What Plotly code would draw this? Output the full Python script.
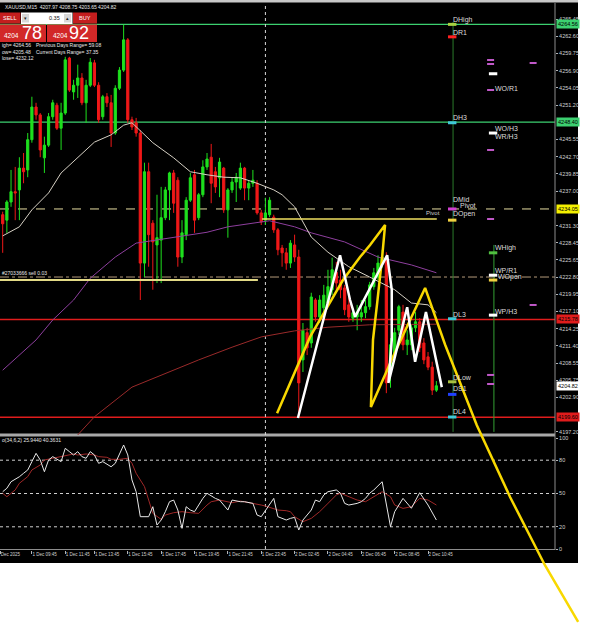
import plotly.graph_objects as go

W, H = 595, 625
FONT = "Liberation Sans, Arial, sans-serif"

# ---------------- data ----------------
candle_idx = list(range(105))
open_p = [4233.1,4232.2,4235.2,4236.9,4237.2,4240.8,4240.5,4245.5,4250.9,4249.6,
          4242.5,4244.6,4249.3,4251.2,4247.4,4249.9,4259.0,4253.4,4254.5,4255.7,
          4251.6,4254.5,4258.2,4254.5,4249.3,4252.6,4251.6,4246.6,4254.0,4257.0,
          4262.0,4248.8,4248.3,4246.6,4225.1,4240.2,4231.7,4228.1,4228.9,4232.6,
          4237.2,4240.0,4238.8,4226.1,4229.8,4235.5,4239.7,4232.6,4236.4,4241.0,
          4242.6,4240.2,4239.2,4240.8,4233.9,4237.2,4238.5,4237.5,4240.8,4237.5,
          4238.3,4238.3,4233.4,4232.2,4233.1,4232.7,4230.6,4227.6,4226.8,4225.1,
          4228.1,4226.1,4209.1,4213.6,4211.9,4219.0,4216.2,4217.7,4218.5,4220.7,
          4223.6,4222.3,4221.0,4218.2,4216.0,4216.2,4216.2,4216.9,4217.9,4221.2,
          4222.8,4225.1,4226.1,4207.4,4210.2,4214.0,4217.0,4211.6,4211.6,4214.4,
          4215.4,4211.9,4209.6,4207.9,4204.1]
high_p = [4233.6,4235.5,4240.5,4241.0,4242.6,4243.3,4246.6,4252.6,4251.6,4249.9,
          4246.0,4249.9,4252.1,4251.6,4251.6,4259.2,4259.2,4255.4,4257.9,4256.5,
          4255.4,4259.0,4258.7,4255.0,4252.9,4253.2,4252.9,4254.5,4257.5,4264.5,
          4262.3,4249.3,4249.1,4247.1,4241.7,4241.7,4232.2,4236.4,4237.7,4237.7,
          4240.2,4240.5,4239.3,4232.2,4236.0,4240.0,4240.5,4236.7,4242.1,4243.3,
          4244.8,4241.0,4242.5,4241.0,4237.5,4239.3,4240.0,4241.7,4241.0,4238.8,
          4240.5,4238.8,4233.9,4235.9,4236.0,4233.1,4230.9,4228.1,4227.6,4228.9,
          4229.8,4227.3,4215.2,4214.4,4220.2,4219.3,4219.8,4221.5,4224.0,4226.0,
          4225.3,4224.0,4221.5,4219.8,4217.7,4218.2,4219.0,4219.0,4222.0,4224.3,
          4226.4,4227.3,4226.9,4212.7,4214.4,4218.2,4218.2,4214.0,4214.9,4217.0,
          4216.0,4212.7,4210.4,4208.8,4205.6]
low_p = [4226.8,4230.1,4234.4,4232.2,4232.2,4238.3,4239.3,4245.0,4248.8,4242.6,
         4240.0,4244.3,4248.8,4247.1,4243.8,4249.6,4253.4,4252.1,4252.4,4251.2,
         4248.3,4254.2,4254.2,4248.3,4248.8,4250.9,4244.3,4246.3,4253.7,4256.7,
         4248.3,4247.1,4246.0,4219.0,4222.8,4224.5,4220.7,4221.8,4221.8,4232.2,
         4232.2,4233.4,4224.5,4225.1,4228.9,4235.2,4230.1,4232.2,4236.0,4240.5,
         4235.0,4236.7,4236.0,4233.4,4229.3,4236.7,4235.2,4237.2,4235.5,4235.5,
         4237.7,4233.1,4231.4,4231.4,4232.7,4230.1,4226.4,4224.5,4224.0,4224.3,
         4225.3,4199.7,4207.1,4209.9,4211.1,4215.4,4215.2,4217.0,4218.2,4219.8,
         4220.7,4219.3,4216.5,4215.4,4215.4,4214.0,4215.4,4216.0,4217.4,4220.7,
         4222.3,4224.3,4203.6,4204.5,4209.4,4213.2,4210.7,4209.9,4210.7,4213.7,
         4210.4,4208.4,4207.4,4203.3,4203.8]
close_p = [4231.6,4235.2,4236.9,4236.7,4240.8,4240.2,4245.5,4250.9,4249.6,4243.8,
           4244.6,4249.3,4251.6,4247.4,4249.9,4258.7,4253.7,4254.5,4255.7,4251.6,
           4254.5,4258.3,4254.5,4248.8,4252.6,4251.6,4246.6,4254.0,4257.0,4262.0,
           4248.8,4247.6,4246.6,4225.1,4240.2,4229.8,4228.6,4229.3,4232.6,4237.2,
           4240.0,4235.0,4226.1,4230.1,4235.5,4239.2,4232.2,4236.4,4241.0,4242.3,
           4238.3,4237.7,4241.8,4233.9,4237.2,4238.5,4239.3,4240.8,4237.5,4238.3,
           4238.8,4233.4,4231.9,4233.4,4235.5,4230.6,4227.3,4226.8,4225.1,4228.4,
           4226.1,4205.3,4214.0,4211.1,4219.5,4216.2,4219.0,4219.8,4221.2,4224.0,
           4221.8,4220.7,4217.4,4216.2,4216.9,4217.0,4216.9,4217.9,4221.5,4223.5,
           4225.1,4226.1,4205.3,4211.6,4213.6,4217.9,4211.6,4212.4,4214.4,4215.4,
           4211.1,4209.1,4207.9,4204.1,4204.82]

ma_fast_idx = [0,4,7,11,14,18,22,26,29,31,34,36,41,45,49,53,57,61,65,67,70,74,78,83,88,91,94,98,102,104]
ma_fast_val = [4229.6,4231.1,4233.9,4236.7,4240.0,4242.6,4245.1,4246.3,4247.9,4248.3,4246.3,4245.0,
               4242.5,4240.2,4239.7,4239.3,4239.2,4238.3,4237.2,4236.4,4234.4,4229.4,4226.9,4224.5,
               4222.8,4221.8,4220.7,4218.5,4218.2,4216.9]
ma_mid_idx = [0,8,12,17,21,27,32,37,41,49,54,57,61,64,70,74,82,90,98,104]
ma_mid_val = [4207.4,4212.4,4215.7,4219.0,4222.6,4226.1,4228.4,4228.9,4229.4,4230.2,4231.1,4231.4,
              4231.9,4232.1,4231.1,4230.1,4228.6,4226.1,4224.8,4223.5]
ma_slow_idx = [18,22,31,39,47,55,62,70,78,88,98,104]
ma_slow_val = [4196.7,4199.7,4204.6,4206.9,4209.1,4211.2,4212.9,4213.9,4214.5,4214.9,4215.0,4215.0]

stoch_k_idx = [0,1,2,4,5,6,7,8,9,10,11,12,14,15,16,17,18,19,20,21,22,23,24,26,27,28,29,30,31,32,
               33,35,36,37,38,39,40,41,42,43,44,45,46,48,49,51,52,54,55,57,58,60,61,62,64,65,66,68,69,
               70,71,72,74,75,76,77,78,80,81,82,83,85,86,87,88,89,91,93,94,96,98,100,102,104]
stoch_k_val = [51.6,54.7,60.6,65.1,68.2,71.2,78.7,86.2,80.2,69.6,80.2,83.2,78.7,90.7,87.7,84.7,87.7,83.2,
               81.7,87.7,84.7,77.2,78.7,74.1,77.2,84.7,93.7,84.7,62.2,51.6,29.1,29.1,38.1,21.6,26.1,33.6,
               42.6,44.1,35.1,18.6,38.1,35.1,33.6,45.6,50.2,45.6,44.1,35.1,44.1,42.6,42.6,41.1,30.6,29.1,
               39.6,45.6,29.1,26.1,27.6,28.5,17.1,26.1,35.1,44.1,42.6,48.6,51.6,53.2,50.2,41.1,39.6,41.1,
               42.6,45.6,50.2,53.2,60.6,20.1,33.6,45.6,36.7,50.7,39.6,26.1]
stoch_d_idx = [0,1,3,4,6,7,9,10,12,14,15,17,18,20,22,23,25,26,28,30,31,32,34,35,36,38,39,41,43,45,47,
               49,50,52,54,55,57,58,60,62,63,65,66,68,69,70,72,74,76,78,80,81,83,85,87,89,91,93,94,96,
               98,100,102,104]
stoch_d_val = [50.2,47.1,53.2,59.2,65.2,71.2,75.7,80.2,81.7,83.2,83.8,85.6,84.7,85.6,84.7,83.2,82.6,80.8,
               80.8,81.7,77.2,68.2,56.2,44.1,32.1,26.7,30.6,32.7,33.6,32.7,32.1,39.6,42.6,44.1,42.6,41.7,
               43.2,42.6,41.1,39.6,38.7,36.6,35.1,34.5,33.6,29.1,24.6,27.6,33.6,41.1,48.6,50.2,47.1,44.1,
               42.6,47.1,51.6,47.1,39.6,36.6,38.1,45.6,44.1,39.6]
stoch_levels = [80, 50, 20]
stoch_ticks = [100, 80, 50, 20, 0]

price_ticks = [4265.45,4262.60,4259.75,4256.90,4254.05,4251.20,4245.55,4242.70,4239.85,4237.00,
               4231.30,4228.45,4225.65,4222.80,4219.95,4217.10,4214.25,4211.40,4208.55,4205.75,
               4202.90,4197.20]
time_tick_idx = [-0.6,7,15,22,30,38,46,54,62,70,78,86,94,102]
time_tick_text = ["Dec 2025","1 Dec 09:45","1 Dec 11:45","1 Dec 13:45","1 Dec 15:45","1 Dec 17:45",
                  "1 Dec 19:45","1 Dec 21:45","1 Dec 23:45","2 Dec 02:45","2 Dec 04:45","2 Dec 06:45",
                  "2 Dec 08:45","2 Dec 10:45"]
day_separator_idx = 63

green_levels = [4264.56, 4248.40]
pivot_level = 4234.05
dashdot_level = 4222.80
red_levels = [4215.78, 4199.60]
dopen_idx = [62.2, 104.1]
dopen_price = [4232.4, 4232.4]
order_idx = [-0.65, 61.2]
order_price = [4222.3, 4222.3]
current_price = 4204.82

yellow_draw_idx = [65.8,69.6,73.7,77.8,81.6,85.7,88.1,91.7,91.0,89.8,88.8,88.3,93.6,97.7,101.3,
                   106.1,113.7,121.7,130.0,138.0]
yellow_draw_price = [4200.3,4206.3,4212.9,4217.8,4222.3,4226.1,4228.1,4231.4,4226.1,4218.5,4212.4,
                     4201.3,4209.6,4215.7,4221.0,4211.6,4198.3,4186.4,4175.2,4165.8]
white_draw_idx = [70.8,80.9,83.3,84.5,92.2,93.3,93.3,92.5,97.0,98.9,101.5,105.3]
white_draw_price = [4199.5,4226.4,4219.0,4216.2,4226.4,4220.7,4212.4,4205.3,4217.8,4208.8,4217.0,4204.6]

daily_x = 107.8
daily_prices = [4264.56,4262.5,4248.3,4234.05,4232.2,4215.9,4205.48,4203.4,4199.66]
daily_colors = ["#a8d040","#ff2020","#40c8d8","#d040d0","#f0d040","#40c8d8","#a8c040","#2040ff","#40c8d8"]
weekly_x = 117.6
weekly_prices = [4256.4,4246.6,4226.8,4223.1,4222.3,4216.5]
weekly_colors = ["#ffffff","#ffffff","#50c040","#ffffff","#f0d040","#ffffff"]
purple_idx = [117.0,117.0,117.0,117.0,117.0,117.0,117.0,127.2,127.2]
purple_price = [4258.67,4258.01,4253.71,4243.80,4232.39,4206.61,4205.12,4258.18,4218.18]
daily_vline = [4264.95, 4197.2]
weekly_vline = [4228.1, 4197.2]

# view extents (pixel-matched to the screenshot)
X0, X1 = -0.6475, 142.04
Y0, Y1 = 4165.28, 4268.59
S0, S1 = -68.47, 494.6


def P(x, y):
    return x / W, 1 - y / H


def note(text, x, y, size=7, color="#dcdcdc", xanchor="left", bg=None):
    px, py = P(x, y)
    d = dict(text=text, x=px, y=py, xref="paper", yref="paper", showarrow=False,
             xanchor=xanchor, yanchor="middle", borderpad=0,
             font=dict(size=size, color=color, family=FONT))
    if bg:
        d["bgcolor"] = bg
    return d


def rect(x0, y0, x1, y1, fill, layer="below", line=None):
    a, b = P(x0, y0)
    c, d = P(x1, y1)
    return dict(type="rect", xref="paper", yref="paper", x0=a, y0=d, x1=c, y1=b,
                fillcolor=fill, line=line or dict(width=0), layer=layer)


def hline_paper(y, x0, x1, color, width=1, dash="solid"):
    a, b = P(x0, y)
    c, _ = P(x1, y)
    return dict(type="line", xref="paper", yref="paper", x0=a, x1=c, y0=b, y1=b,
                line=dict(color=color, width=width, dash=dash), layer="below")


fig = go.Figure()

# moving averages
fig.add_trace(go.Scatter(x=ma_slow_idx, y=ma_slow_val, mode="lines", line=dict(color="#9a2a2a", width=1)))
fig.add_trace(go.Scatter(x=ma_mid_idx, y=ma_mid_val, mode="lines", line=dict(color="#8e3f9e", width=1)))
fig.add_trace(go.Scatter(x=ma_fast_idx, y=ma_fast_val, mode="lines", line=dict(color="#d6d0c4", width=1)))

# order line and day open segment
fig.add_trace(go.Scatter(x=order_idx, y=order_price, mode="lines", line=dict(color="#e2da86", width=2)))
fig.add_trace(go.Scatter(x=dopen_idx, y=dopen_price, mode="lines", line=dict(color="#f0e060", width=1.5)))

# candles
fig.add_trace(go.Candlestick(
    x=candle_idx, open=open_p, high=high_p, low=low_p, close=close_p,
    increasing=dict(line=dict(color="#1ee01e", width=1), fillcolor="#1ee01e"),
    decreasing=dict(line=dict(color="#f01818", width=1), fillcolor="#f01818"),
    whiskerwidth=0, hoverinfo="skip"))

# pivot vertical lines
fig.add_trace(go.Scatter(x=[daily_x + 0.2] * 2, y=daily_vline, mode="lines", line=dict(color="#2a7a2a", width=1)))
fig.add_trace(go.Scatter(x=[weekly_x + 0.2] * 2, y=weekly_vline, mode="lines", line=dict(color="#34a034", width=1)))

# pivot markers
fig.add_trace(go.Scatter(x=[daily_x] * len(daily_prices), y=daily_prices, mode="markers",
                         marker=dict(symbol="line-ew", size=6, line=dict(width=3, color=daily_colors))))
fig.add_trace(go.Scatter(x=[weekly_x] * len(weekly_prices), y=weekly_prices, mode="markers",
                         marker=dict(symbol="line-ew", size=6, line=dict(width=3, color=weekly_colors))))
fig.add_trace(go.Scatter(x=purple_idx, y=purple_price, mode="markers",
                         marker=dict(symbol="line-ew", size=5, line=dict(width=2, color="#c058c8"))))

# hand drawings
fig.add_trace(go.Scatter(x=yellow_draw_idx, y=yellow_draw_price, mode="lines",
                         line=dict(color="#f8d800", width=2.5)))
fig.add_trace(go.Scatter(x=white_draw_idx, y=white_draw_price, mode="lines",
                         line=dict(color="#ffffff", width=2.5)))

# stochastic
fig.add_trace(go.Scatter(x=stoch_d_idx, y=stoch_d_val, yaxis="y2", mode="lines",
                         line=dict(color="#a02828", width=1)))
fig.add_trace(go.Scatter(x=stoch_k_idx, y=stoch_k_val, yaxis="y2", mode="lines",
                         line=dict(color="#e8e8e8", width=1)))

shapes = [
    rect(0, 0, 578, 563, "#000000"),
    rect(0, 0, 578, 2.5, "#c8c8c8"),
]
# levels
for lv in green_levels:
    shapes.append(dict(type="line", xref="paper", yref="y", x0=0, x1=555 / W, y0=lv, y1=lv,
                       line=dict(color="#3cd070", width=1.2), layer="below"))
shapes.append(dict(type="line", xref="paper", yref="y", x0=0, x1=555 / W, y0=pivot_level, y1=pivot_level,
                   line=dict(color="#e6dca0", width=1, dash="dash"), layer="below"))
shapes.append(dict(type="line", xref="paper", yref="y", x0=0, x1=555 / W, y0=dashdot_level, y1=dashdot_level,
                   line=dict(color="#b49a7a", width=1, dash="dashdot"), layer="below"))
for lv in red_levels:
    shapes.append(dict(type="line", xref="paper", yref="y", x0=0, x1=555 / W, y0=lv, y1=lv,
                       line=dict(color="#e01c1c", width=1.5), layer="below"))
# stochastic grid
for lv in stoch_levels:
    shapes.append(dict(type="line", xref="paper", yref="y2", x0=0, x1=555 / W, y0=lv, y1=lv,
                       line=dict(color="#d0d0d0", width=1, dash="dot"), layer="below"))
# separators / borders
shapes.append(rect(0, 433.5, 555, 436.5, "#a8a8a8"))
shapes.append(hline_paper(549.5, 0, 555, "#8c8c8c"))
a, b = P(555, 3)
_, d = P(555, 550)
shapes.append(dict(type="line", xref="paper", yref="paper", x0=a, x1=a, y0=d, y1=b,
                   line=dict(color="#8c8c8c", width=1), layer="below"))
shapes.append(dict(type="line", xref="x", yref="paper", x0=day_separator_idx, x1=day_separator_idx,
                   y0=1 - 549 / H, y1=1 - 3 / H, line=dict(color="#d8d8d8", width=1, dash="dot"),
                   layer="below"))
# trading panel
shapes += [
    rect(0, 12.5, 20.5, 23.5, "#c41e1e", "above"),
    rect(21, 12.5, 72.5, 24, "#ffffff", "above"),
    rect(22, 14, 29, 22.5, "#d8d8d8", "above"),
    rect(64, 14, 71, 22.5, "#d8d8d8", "above"),
    rect(73, 12.5, 97, 23.5, "#c41e1e", "above"),
    rect(0, 24.5, 46, 42, "#d22828", "above"),
    rect(47, 24.5, 97, 42, "#d22828", "above"),
]

ann = [
    note("XAUUSD,M15  4207.97 4208.75 4203.65 4204.82", 4, 7, size=5, color="#e8e8e8"),
    note("SELL", 2, 18, size=5.5, color="#ffffff"),
    note("▾", 23, 18, size=5, color="#202020"),
    note("0.35", 48, 18, size=5.5, color="#101010"),
    note("▴", 65, 18, size=5, color="#202020"),
    note("BUY", 78, 18, size=5.5, color="#ffffff"),
    note("4204", 3, 36, size=6.5, color="#ffffff"),
    note("78", 21, 33.5, size=18, color="#ffffff"),
    note("4204", 52, 36, size=6.5, color="#ffffff"),
    note("92", 68, 33.5, size=18, color="#ffffff"),
    note("igh= 4264.56", 0.5, 45, size=5, color="#e8e8e8"),
    note("Previous Days Range= 59.08", 35, 45, size=5, color="#e8e8e8"),
    note("ow= 4205.48", 0.5, 51.5, size=5, color="#e8e8e8"),
    note("Current Days Range= 37.35", 35, 51.5, size=5, color="#e8e8e8"),
    note("lose= 4232.12", 0.5, 58, size=5, color="#e8e8e8"),
    note("#27033666 sell 0.03", 1, 273, size=5, color="#e8e8e8"),
    note("o(34,6,2) 25.9440 40.3631", 0.5, 439.5, size=5, color="#e8e8e8"),
    note("Pivot", 425, 213, size=6, color="#d0d0d0"),
]
for t, y in zip(["DHigh", "DR1", "DH3", "DMid", "DOpen", "DL3", "DLow", "DS1", "DL4"],
                [19.5, 32.5, 117.5, 199, 214.5, 314, 377.5, 388.5, 411.5]):
    ann.append(note(t, 452, y))
ann.append(note("Pivot", 459, 205))
for t, x, y in [("WO/R1", 494, 88.5), ("WO/H3", 494, 128.5), ("WR/H3", 494, 136.5), ("WHigh", 494, 247.5),
                ("WP/R1", 494, 270.5), ("WOpen", 497, 277), ("WP/H3", 494, 311.5)]:
    ann.append(note(t, x, y))

# price tags on the axis
tags = [(green_levels[0], "#3cd070"), (green_levels[1], "#3cd070"), (pivot_level, "#f4f000"),
        (red_levels[0], "#e01c1c"), (current_price, "#ffffff"), (red_levels[1], "#e01c1c")]
for v, col in tags:
    ann.append(dict(text=f"{v:.2f}", x=556 / W, y=v, xref="paper", yref="y", showarrow=False,
                    xanchor="left", yanchor="middle", bgcolor=col, width=22, height=8, borderpad=0,
                    font=dict(size=5.5, color="#000000", family=FONT)))

axis_font = dict(size=5.5, color="#d0d0d0", family=FONT)
fig.update_layout(
    width=W, height=H, margin=dict(l=0, r=0, t=0, b=0),
    paper_bgcolor="#ffffff", plot_bgcolor="#ffffff", showlegend=False, boxgap=0.25,
    shapes=shapes, annotations=ann,
    xaxis=dict(range=[X0, X1], domain=[0, 1], anchor="free", position=1 - 550 / H,
               showgrid=False, zeroline=False, showline=False, tickmode="array",
               tickvals=time_tick_idx, ticktext=time_tick_text, ticks="outside", ticklen=3,
               tickcolor="#b4b4b4", tickfont=dict(size=4.5, color="#d0d0d0", family=FONT),
               ticklabelposition="outside right", tickangle=0, ticklabeloverflow="allow",
               rangeslider=dict(visible=False), fixedrange=True),
    yaxis=dict(range=[Y0, Y1], domain=[0, 1], anchor="free", position=555 / W, side="right",
               showgrid=False, zeroline=False, showline=False, tickmode="array",
               tickvals=price_ticks, ticktext=[f"{v:.2f}" for v in price_ticks],
               ticks="outside", ticklen=2, tickcolor="#b4b4b4", tickfont=axis_font, fixedrange=True),
    yaxis2=dict(range=[S0, S1], overlaying="y", anchor="free", position=555 / W, side="right",
                showgrid=False, zeroline=False, showline=False, tickmode="array",
                tickvals=stoch_ticks, ticktext=[str(v) for v in stoch_ticks],
                ticks="outside", ticklen=2, tickcolor="#b4b4b4", tickfont=axis_font, fixedrange=True),
)

fig.write_html("out.html", config={"displayModeBar": False},
               post_script="document.body.style.margin='0';document.body.style.overflow='hidden';")
